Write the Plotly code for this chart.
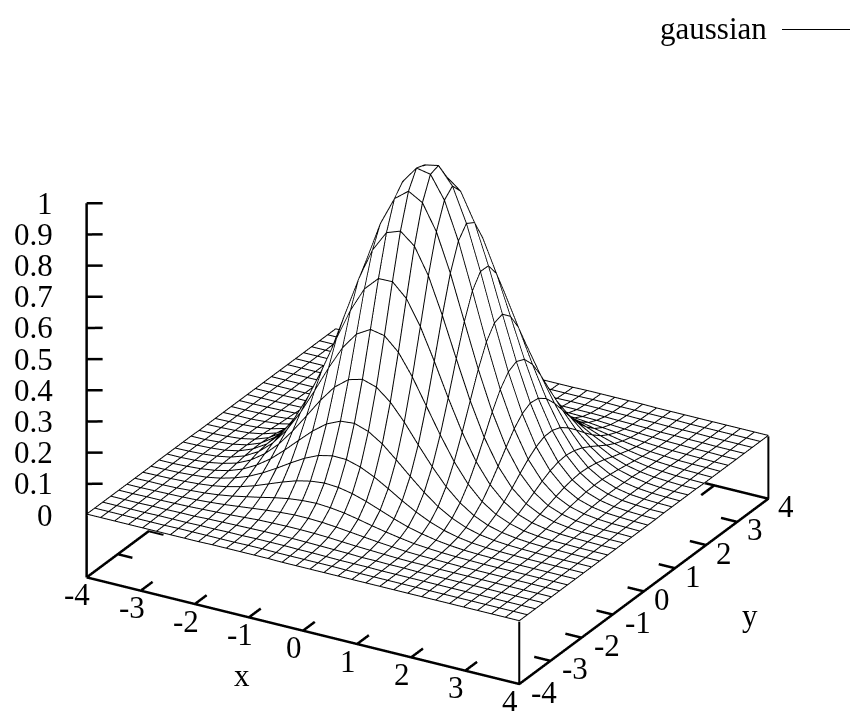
#!/usr/bin/env python3

import plotly.graph_objects as go

# surface heights. The hill leans along x = y, so there are
# two tables: x and y with the same sign, and x and y with opposite signs.
grid_half = [0.129, 0.387, 0.645, 0.903, 1.161, 1.419, 1.677, 1.935,
             2.194, 2.452, 2.710, 2.968, 3.226, 3.484, 3.742, 4.0]
z_same = [
    [.988, .933, .824, .681, .527, .381, .258, .163, .097, .054, .028, .014, .006, .003, .001, 0],
    [.933, .898, .808, .680, .536, .395, .273, .176, .106, .060, .032, .016, .007, .003, .001, 0],
    [.824, .808, .741, .636, .510, .383, .269, .177, .109, .063, .034, .017, .008, .004, .001, .001],
    [.681, .680, .636, .556, .455, .348, .249, .167, .104, .061, .034, .017, .008, .004, .002, .001],
    [.527, .536, .510, .455, .379, .295, .215, .147, .094, .056, .031, .016, .008, .004, .002, .001],
    [.381, .395, .383, .348, .295, .234, .174, .121, .079, .048, .027, .015, .007, .003, .001, .001],
    [.258, .273, .269, .249, .215, .174, .132, .093, .062, .038, .022, .012, .006, .003, .001, .001],
    [.163, .176, .177, .167, .147, .121, .093, .067, .045, .029, .017, .009, .005, .002, .001, 0],
    [.097, .106, .109, .104, .094, .079, .062, .045, .031, .020, .012, .007, .004, .002, .001, 0],
    [.054, .060, .063, .061, .056, .048, .038, .029, .020, .013, .008, .005, .002, .001, .001, 0],
    [.028, .032, .034, .034, .031, .027, .022, .017, .012, .008, .005, .003, .002, .001, 0, 0],
    [.014, .016, .017, .017, .016, .015, .012, .009, .007, .005, .003, .002, .001, .001, 0, 0],
    [.006, .007, .008, .008, .008, .007, .006, .005, .004, .002, .002, .001, .001, 0, 0, 0],
    [.003, .003, .004, .004, .004, .003, .003, .002, .002, .001, .001, .001, 0, 0, 0, 0],
    [.001, .001, .001, .002, .002, .001, .001, .001, .001, .001, 0, 0, 0, 0, 0, 0],
    [0, 0, .001, .001, .001, .001, .001, 0, 0, 0, 0, 0, 0, 0, 0, 0],
]
z_opposite = [
    [.979, .907, .787, .638, .485, .344, .229, .142, .083, .045, .023, .011, .005, .002, .001, 0],
    [.907, .825, .703, .559, .417, .291, .189, .116, .066, .035, .018, .008, .004, .001, .001, 0],
    [.787, .703, .587, .459, .335, .229, .147, .088, .049, .026, .013, .006, .002, .001, 0, 0],
    [.638, .559, .459, .352, .253, .170, .107, .063, .034, .018, .009, .004, .002, .001, 0, 0],
    [.485, .417, .335, .253, .178, .117, .072, .042, .023, .011, .005, .002, .001, 0, 0, 0],
    [.344, .291, .229, .170, .117, .076, .046, .026, .014, .007, .003, .001, .001, 0, 0, 0],
    [.229, .189, .147, .107, .072, .046, .027, .015, .008, .004, .002, .001, 0, 0, 0, 0],
    [.142, .116, .088, .063, .042, .026, .015, .008, .004, .002, .001, 0, 0, 0, 0, 0],
    [.083, .066, .049, .034, .023, .014, .008, .004, .002, .001, 0, 0, 0, 0, 0, 0],
    [.045, .035, .026, .018, .011, .007, .004, .002, .001, 0, 0, 0, 0, 0, 0, 0],
    [.023, .018, .013, .009, .005, .003, .002, .001, 0, 0, 0, 0, 0, 0, 0, 0],
    [.011, .008, .006, .004, .002, .001, .001, 0, 0, 0, 0, 0, 0, 0, 0, 0],
    [.005, .004, .002, .002, .001, .001, 0, 0, 0, 0, 0, 0, 0, 0, 0, 0],
    [.002, .001, .001, .001, 0, 0, 0, 0, 0, 0, 0, 0, 0, 0, 0, 0],
    [.001, .001, 0, 0, 0, 0, 0, 0, 0, 0, 0, 0, 0, 0, 0, 0],
    [0, 0, 0, 0, 0, 0, 0, 0, 0, 0, 0, 0, 0, 0, 0, 0],
]
xy_ticks = [-4, -3, -2, -1, 0, 1, 2, 3, 4]
z_ticks = [0, 0.1, 0.2, 0.3, 0.4, 0.5, 0.6, 0.7, 0.8, 0.9, 1]
z_tick_labels = ['0', '0.1', '0.2', '0.3', '0.4', '0.5', '0.6', '0.7', '0.8', '0.9', '1']
z_base = -0.2
# lifts the wire mesh just off the white surface so the two don't z-fight
mesh_lift = 0.003

FONT = dict(family='Liberation Serif', size=31, color='black')

grid = [-v for v in reversed(grid_half)] + grid_half
z_full = [list(reversed(s)) + o for s, o in zip(reversed(z_same), reversed(z_opposite))] + \
         [list(reversed(o)) + s for s, o in zip(z_same, z_opposite)]


def line3d(xs, ys, zs, width=5):
    return go.Scatter3d(x=xs, y=ys, z=zs, mode='lines', hoverinfo='skip',
                        showlegend=False, line=dict(color='black', width=width))


surface = go.Surface(
    x=grid, y=grid, z=z_full,
    colorscale=[[0, 'white'], [1, 'white']],
    showscale=False,
    hoverinfo='skip',
    lighting=dict(ambient=1, diffuse=0, specular=0, fresnel=0, roughness=1),
)

# wire mesh, one broken polyline per direction
mesh_x, mesh_y, mesh_z = [], [], []
for i, yv in enumerate(grid):
    for j, xv in enumerate(grid):
        mesh_x.append(xv)
        mesh_y.append(yv)
        mesh_z.append(z_full[i][j] + mesh_lift)
    mesh_x.append(None)
    mesh_y.append(None)
    mesh_z.append(None)
for j, xv in enumerate(grid):
    for i, yv in enumerate(grid):
        mesh_x.append(xv)
        mesh_y.append(yv)
        mesh_z.append(z_full[i][j] + mesh_lift)
    mesh_x.append(None)
    mesh_y.append(None)
    mesh_z.append(None)

# base box and axes
traces = [surface, line3d(mesh_x, mesh_y, mesh_z, width=2)]
traces.append(line3d([-4, 4, 4, -4, -4], [-4, -4, 4, 4, -4], [z_base] * 5))
traces.append(line3d([-4, -4], [-4, -4], [z_base, 1]))
traces.append(line3d([4, 4], [-4, -4], [z_base, 0], width=4))
traces.append(line3d([4, 4], [4, 4], [z_base, 0], width=4))
for t in xy_ticks[1:-1]:
    traces.append(line3d([t, t], [-4, -3.62], [z_base, z_base]))
    traces.append(line3d([t, t], [4, 3.58], [z_base, z_base]))
    traces.append(line3d([4, 3.7], [t, t], [z_base, z_base]))
    traces.append(line3d([-4, -3.73], [t, t], [z_base, z_base]))
for t in z_ticks[1:]:
    traces.append(line3d([-4, -3.78], [-4, -3.87], [t, t]))

annotations = []
for t in xy_ticks:
    annotations.append(dict(x=t, y=-4, z=z_base, text=str(t), showarrow=False, font=FONT,
                            xanchor='center', yanchor='middle', xshift=-9, yshift=-17))
    annotations.append(dict(x=4, y=t, z=z_base, text=str(t), showarrow=False, font=FONT,
                            xanchor='center', yanchor='middle', xshift=25 if t < 0 else 18, yshift=-8))
for t, label in zip(z_ticks, z_tick_labels):
    annotations.append(dict(x=-4, y=-4, z=t, text=label, showarrow=False, font=FONT,
                            xanchor='right', yanchor='middle', xshift=-31))
annotations.append(dict(x=-1.5, y=-4, z=z_base, text='x', showarrow=False, font=FONT,
                        xanchor='center', yanchor='middle', xshift=20, yshift=-65))
annotations.append(dict(x=4, y=1, z=z_base, text='y', showarrow=False, font=FONT,
                        xanchor='center', yanchor='middle', xshift=75, yshift=-47))

hidden = dict(visible=False, showspikes=False)
fig = go.Figure(data=traces)
fig.update_layout(
    width=850, height=711,
    margin=dict(l=0, r=0, t=0, b=0),
    paper_bgcolor='white',
    showlegend=False,
    scene=dict(
        domain=dict(x=[0.0056, 1], y=[0.0126, 1]),
        xaxis=dict(range=[-4.05, 4.05], **hidden),
        yaxis=dict(range=[-4.05, 4.05], **hidden),
        zaxis=dict(range=[-0.21, 1.01], **hidden),
        aspectmode='manual',
        aspectratio=dict(x=1.44, y=1.44, z=1.199),
        camera=dict(
            projection=dict(type='orthographic'),
            up=dict(x=0, y=0, z=1),
            center=dict(x=0, y=0, z=0),
            eye=dict(x=1.2, y=-2.085, z=1.14),
        ),
        annotations=annotations,
    ),
    annotations=[dict(x=769 / 850, y=1 - 28 / 711, xref='paper', yref='paper', text='gaussian',
                      showarrow=False, font=FONT, xanchor='right', yanchor='middle')],
    shapes=[dict(type='line', xref='paper', yref='paper', x0=782 / 850, x1=1,
                 y0=1 - 29.5 / 711, y1=1 - 29.5 / 711, line=dict(color='black', width=1))],
)

# the page's default body margin would push the figure 8px off
fig.write_html("out.html", config=dict(displayModeBar=False),
               post_script="document.body.style.margin='0';")
